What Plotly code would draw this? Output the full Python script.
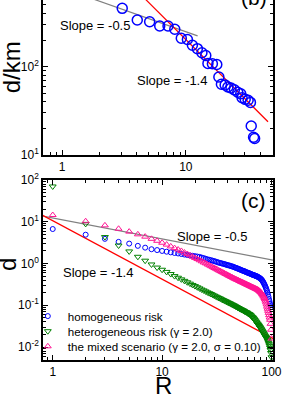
import plotly.graph_objects as go

# ---------------- panel (b) data ----------------
b_x = [3.06, 4.05, 5.10, 6.15, 7.18, 8.14, 9.19, 10.3, 11.3, 12.4, 13.5, 14.5, 15.1, 16.4, 17.8,
       18.5, 19.4, 20.8, 21.9, 23.2, 24.7, 26.3, 27.8, 28.5, 30.2, 31.9, 33.3, 33.8, 35.3, 36.0]
b_y = [458, 338, 323, 289, 289, 265, 210, 203, 175, 160, 144, 134, 109, 108, 106,
       76.5, 63.2, 62.1, 58.9, 57.4, 54.7, 51.4, 49.4, 44.6, 42.7, 41.7, 39.4, 21.3, 15.9, 15.4]
b_fit05_x = [1.5, 12.45]
b_fit05_y = [636, 223]
b_fit14_x = [4.5, 46.2]
b_fit14_y = [620, 23.8]

# ---------------- panel (c) data ----------------
R = list(range(1, 101))
homog = [6.7, 4.9, 3.9, 3.3, 3.0, 2.65, 2.4, 2.2, 2.1, 2.0,
         1.92, 1.85, 1.79, 1.74, 1.69, 1.64, 1.60, 1.56, 1.53, 1.50,
         1.47, 1.44, 1.39, 1.35, 1.30, 1.26, 1.23, 1.20, 1.17, 1.14,
         1.11, 1.08, 1.05, 1.03, 1.01, 0.99, 0.97, 0.95, 0.93, 0.91,
         0.90, 0.88, 0.86, 0.85, 0.83, 0.81, 0.79, 0.78, 0.76, 0.74,
         0.73, 0.71, 0.70, 0.68, 0.67, 0.66, 0.65, 0.63, 0.62, 0.61,
         0.60, 0.59, 0.58, 0.57, 0.56, 0.55, 0.54, 0.53, 0.53, 0.52,
         0.51, 0.50, 0.50, 0.49, 0.48, 0.47, 0.46, 0.45, 0.44, 0.43,
         0.41, 0.40, 0.38, 0.36, 0.34, 0.32, 0.30, 0.28, 0.26, 0.24,
         0.22, 0.20, 0.18, 0.16, 0.14, 0.125, 0.11, 0.10, 0.09, 0.08]
hetero = [70, 8.9, 4.3, 2.7, 1.95, 1.45, 1.17, 0.95, 0.80, 0.71,
          0.63, 0.56, 0.50, 0.457, 0.418, 0.385, 0.356, 0.330, 0.307, 0.288,
          0.270, 0.254, 0.239, 0.227, 0.215, 0.204, 0.195, 0.186, 0.178, 0.170,
          0.163, 0.156, 0.150, 0.145, 0.139, 0.134, 0.129, 0.125, 0.121, 0.117,
          0.113, 0.110, 0.106, 0.103, 0.100, 0.097, 0.094, 0.091, 0.088, 0.086,
          0.083, 0.081, 0.079, 0.077, 0.0755, 0.073, 0.071, 0.069, 0.068, 0.066,
          0.064, 0.062, 0.061, 0.059, 0.057, 0.054, 0.052, 0.050, 0.048, 0.0457,
          0.0435, 0.041, 0.039, 0.037, 0.0352, 0.0336, 0.032, 0.0304, 0.029, 0.0276,
          0.0262, 0.0248, 0.0235, 0.0223, 0.0211, 0.0200, 0.0189, 0.0180, 0.0172, 0.0165,
          0.0156, 0.0147, 0.0137, 0.0127, 0.0117, 0.0107, 0.0096, 0.0085, 0.0072, 0.0057]
mixed = [14.5, 10.3, 8.2, 6.8, 5.8, 5.0, 4.4, 3.9, 3.5, 3.15,
         2.84, 2.57, 2.34, 2.16, 2.0, 1.83, 1.69, 1.57, 1.46, 1.36,
         1.28, 1.20, 1.13, 1.06, 1.01, 0.953, 0.906, 0.861, 0.820, 0.782,
         0.748, 0.715, 0.684, 0.659, 0.632, 0.608, 0.585, 0.564, 0.545, 0.526,
         0.507, 0.491, 0.476, 0.461, 0.447, 0.434, 0.423, 0.412, 0.402, 0.392,
         0.381, 0.372, 0.364, 0.356, 0.348, 0.340, 0.332, 0.326, 0.318, 0.312,
         0.305, 0.299, 0.294, 0.288, 0.282, 0.276, 0.272, 0.266, 0.262, 0.257,
         0.253, 0.248, 0.244, 0.240, 0.235, 0.229, 0.223, 0.217, 0.210, 0.203,
         0.195, 0.187, 0.178, 0.169, 0.160, 0.150, 0.140, 0.129, 0.117, 0.105,
         0.093, 0.083, 0.074, 0.066, 0.058, 0.051, 0.045, 0.036, 0.026, 0.016]
c_fit05_x = [0.8, 105]
c_fit05_y = [13.75, 1.2]
c_fit14_x = [0.8, 105]
c_fit14_y = [14.5, 0.0157]

legend_names = ["homogeneous risk",
                "heterogeneous risk (\u03b3 = 2.0)",
                "the mixed scenario (\u03b3 = 2.0, \u03c3 = 0.10)"]

y_ticks_c = [0.01, 0.1, 1, 10, 100]
y_text_c = ["10<sup>-2</sup>", "10<sup>-1</sup>", "10<sup>0</sup>", "10<sup>1</sup>", "10<sup>2</sup>"]
y_ticks_b = [10, 100, 1000]
y_text_b = ["10<sup>1</sup>", "10<sup>2</sup>", "10<sup>3</sup>"]
x_ticks = [1, 10, 100]
x_text = ["1", "10", "100"]

FONT = "Liberation Sans, Arial, sans-serif"
BLUE = "#0000ff"
GREEN = "#008000"
PINK = "#ff1493"

fig = go.Figure()

# panel (b)
fig.add_trace(go.Scatter(x=b_fit05_x, y=b_fit05_y, mode="lines", line=dict(color="#808080", width=1.2),
                         xaxis="x", yaxis="y", showlegend=False))
fig.add_trace(go.Scatter(x=b_fit14_x, y=b_fit14_y, mode="lines", line=dict(color="#ff0000", width=1.2),
                         xaxis="x", yaxis="y", showlegend=False))
fig.add_trace(go.Scatter(x=b_x, y=b_y, mode="markers",
                         marker=dict(symbol="circle-open", size=10, color=BLUE, line=dict(width=1.5, color=BLUE)),
                         xaxis="x", yaxis="y", showlegend=False))

# panel (c)
fig.add_trace(go.Scatter(x=c_fit05_x, y=c_fit05_y, mode="lines", line=dict(color="#808080", width=1.2),
                         xaxis="x2", yaxis="y2", showlegend=False))
fig.add_trace(go.Scatter(x=c_fit14_x, y=c_fit14_y, mode="lines", line=dict(color="#ff0000", width=1.2),
                         xaxis="x2", yaxis="y2", showlegend=False))
fig.add_trace(go.Scatter(x=R, y=homog, mode="markers", name=legend_names[0], legend="legend",
                         marker=dict(symbol="circle-open", size=5, color=BLUE, line=dict(width=1, color=BLUE)),
                         xaxis="x2", yaxis="y2"))
fig.add_trace(go.Scatter(x=R, y=hetero, mode="markers", name=legend_names[1], legend="legend2",
                         marker=dict(symbol="triangle-down-open", size=6, color=GREEN, line=dict(width=1, color=GREEN)),
                         xaxis="x2", yaxis="y2"))
fig.add_trace(go.Scatter(x=R, y=mixed, mode="markers", name=legend_names[2], legend="legend3",
                         marker=dict(symbol="triangle-up-open", size=6, color=PINK, line=dict(width=1, color=PINK)),
                         xaxis="x2", yaxis="y2"))

def minor_vals(lo, hi):
    vals = []
    d = lo
    while d < hi:
        for k in range(2, 10):
            vals.append(k * d)
        d *= 10
    return vals

axis_common = dict(type="log", showline=True, linecolor="black", linewidth=1.5,
                   ticks="inside", ticklen=5, tickwidth=1, tickcolor="black",
                   showgrid=False, zeroline=False, automargin=False,
                   tickfont=dict(family=FONT, size=12, color="black"))

fig.update_layout(
    template="none",
    width=305, height=395,
    margin=dict(l=43, r=32, t=0, b=35, pad=0, autoexpand=False),
    paper_bgcolor="white", plot_bgcolor="white",
    font=dict(family=FONT, size=12, color="black"),
    xaxis=dict(**axis_common, domain=[0, 1], anchor="y", range=[-0.155, 1.705],
               tickmode="array", tickvals=x_ticks, ticktext=x_text, mirror=False,
               minor=dict(tickmode="array", tickvals=minor_vals(0.1, 100), ticks="inside", ticklen=3,
                          tickcolor="black", showgrid=False)),
    yaxis=dict(**axis_common, domain=[0.5694, 1], anchor="x", range=[1.0, 2.755],
               tickmode="array", tickvals=y_ticks_b, ticktext=y_text_b, mirror="ticks",
               minor=dict(tickmode="array", tickvals=minor_vals(10, 1000), ticks="inside", ticklen=3,
                          tickcolor="black", showgrid=False)),
    xaxis2=dict(**axis_common, domain=[0, 1], anchor="y2", range=[-0.089, 2.014],
                tickmode="array", tickvals=x_ticks, ticktext=x_text, mirror="ticks",
                minor=dict(tickmode="array", tickvals=minor_vals(0.1, 100), ticks="inside", ticklen=3,
                           tickcolor="black", showgrid=False)),
    yaxis2=dict(**axis_common, domain=[0, 0.5], anchor="x2", range=[-2.31, 2.0],
                tickmode="array", tickvals=y_ticks_c, ticktext=y_text_c, mirror="ticks",
                minor=dict(tickmode="array", tickvals=minor_vals(0.001, 100), ticks="inside", ticklen=3,
                           tickcolor="black", showgrid=False)),
)

leg_common = dict(bgcolor="rgba(0,0,0,0)", borderwidth=0, font=dict(family=FONT, size=11.6, color="black"),
                  xanchor="left", yanchor="middle", itemwidth=30, tracegroupgap=0)
fig.update_layout(
    legend=dict(**leg_common, x=-0.066, y=0.122),
    legend2=dict(**leg_common, x=-0.066, y=0.080),
    legend3=dict(**leg_common, x=-0.066, y=0.038),
)

ann_font = dict(family=FONT, size=13, color="black")
annotations = [
    dict(text="Slope = -0.5", x=0.226, y=0.928, font=ann_font),
    dict(text="Slope = -1.4", x=0.561, y=0.775, font=ann_font),
    dict(text="Slope = -0.5", x=0.735, y=0.344, font=ann_font),
    dict(text="Slope = -1.4", x=0.239, y=0.244, font=ann_font),
    dict(text="(c)", x=0.917, y=0.444, font=dict(family=FONT, size=21, color="black")),
    dict(text="(b)", x=0.917, y=1.008, font=dict(family=FONT, size=21, color="black")),
    dict(text="d/km", x=-0.133, y=0.814, textangle=-90, font=dict(family=FONT, size=24, color="black")),
    dict(text="d", x=-0.152, y=0.264, textangle=-90, font=dict(family=FONT, size=24, color="black")),
    dict(text="R", x=0.526, y=-0.07, font=dict(family=FONT, size=24, color="black")),
]
for a in annotations:
    a.update(xref="paper", yref="paper", showarrow=False, xanchor="center", yanchor="middle")
fig.update_layout(annotations=annotations)

fig.write_html("out.html", config={"displayModeBar": False},
               post_script="document.body.style.margin='0px';document.body.style.padding='0px';")
